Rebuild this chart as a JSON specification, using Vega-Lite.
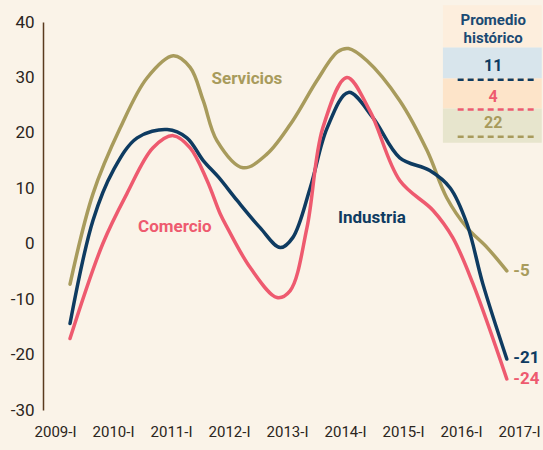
{
  "$schema": "https://vega.github.io/schema/vega-lite/v6.json",
  "width": 500,
  "height": 388,
  "autosize": {"type": "none"},
  "padding": {"left": 43, "top": 22, "right": 0, "bottom": 40},
  "background": "#faf3e8",
  "config": {
    "view": {"stroke": null},
    "font": "Roboto",
    "text": {"font": "Roboto"}
  },
  "datasets": {
    "lines": [
      {"series": "Servicios", "t": 0, "v": -7.3},
      {"series": "Servicios", "t": 0.42, "v": 9.0},
      {"series": "Servicios", "t": 0.92, "v": 20.9},
      {"series": "Servicios", "t": 1.41, "v": 29.9},
      {"series": "Servicios", "t": 1.89, "v": 33.9},
      {"series": "Servicios", "t": 2.2, "v": 31.8},
      {"series": "Servicios", "t": 2.44, "v": 25.8},
      {"series": "Servicios", "t": 2.69, "v": 18.6},
      {"series": "Servicios", "t": 3.17, "v": 13.7},
      {"series": "Servicios", "t": 3.61, "v": 16.2},
      {"series": "Servicios", "t": 4.08, "v": 22.2},
      {"series": "Servicios", "t": 4.52, "v": 29.4},
      {"series": "Servicios", "t": 4.9, "v": 34.6},
      {"series": "Servicios", "t": 5.1, "v": 35.2},
      {"series": "Servicios", "t": 5.44, "v": 33.0},
      {"series": "Servicios", "t": 6.04, "v": 25.8},
      {"series": "Servicios", "t": 6.54, "v": 16.8},
      {"series": "Servicios", "t": 6.9, "v": 8.3},
      {"series": "Servicios", "t": 7.27, "v": 2.9},
      {"series": "Servicios", "t": 7.64, "v": -0.7},
      {"series": "Servicios", "t": 8, "v": -4.9},
      {"series": "Industria", "t": 0, "v": -14.4},
      {"series": "Industria", "t": 0.42, "v": 4.2},
      {"series": "Industria", "t": 0.79, "v": 13.2},
      {"series": "Industria", "t": 1.23, "v": 19.1},
      {"series": "Industria", "t": 1.78, "v": 20.6},
      {"series": "Industria", "t": 2.14, "v": 19.1},
      {"series": "Industria", "t": 2.44, "v": 15.0},
      {"series": "Industria", "t": 2.72, "v": 12.0},
      {"series": "Industria", "t": 3.06, "v": 7.8},
      {"series": "Industria", "t": 3.48, "v": 2.9},
      {"series": "Industria", "t": 3.85, "v": -0.7},
      {"series": "Industria", "t": 4.08, "v": 1.1},
      {"series": "Industria", "t": 4.4, "v": 10.1},
      {"series": "Industria", "t": 4.71, "v": 20.9},
      {"series": "Industria", "t": 5.1, "v": 27.3},
      {"series": "Industria", "t": 5.55, "v": 22.7},
      {"series": "Industria", "t": 6.04, "v": 15.5},
      {"series": "Industria", "t": 6.59, "v": 13.2},
      {"series": "Industria", "t": 6.96, "v": 10.1},
      {"series": "Industria", "t": 7.27, "v": 3.6},
      {"series": "Industria", "t": 7.56, "v": -7.2},
      {"series": "Industria", "t": 8, "v": -20.8},
      {"series": "Comercio", "t": 0, "v": -17.1},
      {"series": "Comercio", "t": 0.6, "v": 0},
      {"series": "Comercio", "t": 1.04, "v": 9.0},
      {"series": "Comercio", "t": 1.52, "v": 17.3},
      {"series": "Comercio", "t": 1.89, "v": 19.5},
      {"series": "Comercio", "t": 2.2, "v": 17.3},
      {"series": "Comercio", "t": 2.51, "v": 11.4},
      {"series": "Comercio", "t": 2.75, "v": 5.4},
      {"series": "Comercio", "t": 2.88, "v": 2.9},
      {"series": "Comercio", "t": 3.3, "v": -4.3},
      {"series": "Comercio", "t": 3.79, "v": -9.7},
      {"series": "Comercio", "t": 4.03, "v": -8.5},
      {"series": "Comercio", "t": 4.34, "v": 2.9},
      {"series": "Comercio", "t": 4.63, "v": 20.9},
      {"series": "Comercio", "t": 5.07, "v": 30.0},
      {"series": "Comercio", "t": 5.49, "v": 24.0},
      {"series": "Comercio", "t": 6.04, "v": 11.4},
      {"series": "Comercio", "t": 6.65, "v": 6.0},
      {"series": "Comercio", "t": 7.01, "v": 1.1},
      {"series": "Comercio", "t": 7.38, "v": -7.2},
      {"series": "Comercio", "t": 8, "v": -24.4}
    ],
    "box": [
      {"row": "title", "x1": 6.83, "x2": 8.64, "y1": 35.4, "y2": 43.0},
      {"row": "Industria", "x1": 6.83, "x2": 8.64, "y1": 29.8, "y2": 35.4},
      {"row": "Comercio", "x1": 6.83, "x2": 8.64, "y1": 24.4, "y2": 29.8},
      {"row": "Servicios", "x1": 6.83, "x2": 8.64, "y1": 18.2, "y2": 24.4}
    ],
    "avg": [
      {"series": "Industria", "label": "11", "ly": 32.1, "dy": 29.6},
      {"series": "Comercio", "label": "4", "ly": 26.4, "dy": 24.2},
      {"series": "Servicios", "label": "22", "ly": 21.8, "dy": 19.3}
    ],
    "names": [
      {"series": "Servicios", "t": 3.24, "v": 29.8},
      {"series": "Comercio", "t": 1.92, "v": 3.1},
      {"series": "Industria", "t": 5.53, "v": 4.7}
    ],
    "ends": [
      {"series": "Servicios", "label": "-5", "t": 8.12, "v": -4.9},
      {"series": "Industria", "label": "-21", "t": 8.12, "v": -20.6},
      {"series": "Comercio", "label": "-24", "t": 8.12, "v": -24.4}
    ],
    "title": [
      {"label": "Promedio", "t": 7.75, "v": 40.3},
      {"label": "histórico", "t": 7.75, "v": 37.2}
    ]
  },
  "layer": [
    {
      "data": {"name": "box"},
      "mark": {"type": "rect", "clip": false},
      "encoding": {
        "x": {"field": "x1", "type": "quantitative", "scale": {"domain": [-0.495, 8.663], "nice": false, "zero": false}},
        "x2": {"field": "x2"},
        "y": {"field": "y1", "type": "quantitative", "scale": {"domain": [-30, 40], "nice": false}},
        "y2": {"field": "y2"},
        "fill": {"field": "row", "type": "nominal", "legend": null,
          "scale": {"domain": ["title", "Industria", "Comercio", "Servicios"], "range": ["#fdeedd", "#d8e5ec", "#fde4c9", "#e7e5cd"]}}
      }
    },
    {
      "mark": {"type": "rule", "color": "#7a5a3c", "strokeWidth": 1.5},
      "encoding": {"y": {"datum": 0, "type": "quantitative"}}
    },
    {
      "data": {"name": "lines"},
      "mark": {"type": "line", "interpolate": "catmull-rom", "strokeWidth": 3.5, "strokeCap": "round"},
      "encoding": {
        "x": {"field": "t", "type": "quantitative",
          "axis": {"values": [0, 1, 2, 3, 4, 5, 6, 7, 8], "labelExpr": "(2009 + datum.value) + '-I'",
            "labelOffset": {"expr": "-15 + 3.4 * datum.value"},
            "domain": false, "ticks": false, "grid": false, "title": null,
            "labelFontSize": 15, "labelColor": "#2b2520", "labelPadding": 14, "labelFont": "Roboto"}},
        "y": {"field": "v", "type": "quantitative",
          "axis": {"values": [-30, -20, -10, 0, 10, 20, 30, 40], "labelExpr": "'' + datum.value", "domain": true, "domainColor": "#5a3a1e", "domainWidth": 1.5,
            "ticks": false, "grid": false, "title": null, "labelFontSize": 17, "labelColor": "#2b2520", "labelPadding": 9, "labelFont": "Roboto"}},
        "color": {"field": "series", "type": "nominal", "legend": null,
          "scale": {"domain": ["Servicios", "Industria", "Comercio"], "range": ["#a89b5c", "#0e3b61", "#ee5a6f"]}},
        "detail": {"field": "series"}
      }
    },
    {
      "data": {"name": "avg"},
      "mark": {"type": "rule", "strokeWidth": 2.5, "strokeDash": [6, 4], "clip": false},
      "encoding": {
        "x": {"datum": 7.1, "type": "quantitative"},
        "x2": {"datum": 8.55},
        "y": {"field": "dy", "type": "quantitative"},
        "color": {"field": "series", "type": "nominal", "legend": null,
          "scale": {"domain": ["Servicios", "Industria", "Comercio"], "range": ["#a89b5c", "#0e3b61", "#ee5a6f"]}}
      }
    },
    {
      "data": {"name": "avg"},
      "mark": {"type": "text", "fontWeight": "bold", "fontSize": 16, "align": "center", "baseline": "middle", "clip": false},
      "encoding": {
        "x": {"datum": 7.75, "type": "quantitative"},
        "y": {"field": "ly", "type": "quantitative"},
        "text": {"field": "label"},
        "color": {"field": "series", "type": "nominal", "legend": null,
          "scale": {"domain": ["Servicios", "Industria", "Comercio"], "range": ["#a89b5c", "#0e3b61", "#ee5a6f"]}}
      }
    },
    {
      "data": {"name": "title"},
      "mark": {"type": "text", "fontWeight": "bold", "fontSize": 15, "align": "center", "baseline": "middle", "color": "#1a4a73", "clip": false},
      "encoding": {
        "x": {"field": "t", "type": "quantitative"},
        "y": {"field": "v", "type": "quantitative"},
        "text": {"field": "label"}
      }
    },
    {
      "data": {"name": "names"},
      "mark": {"type": "text", "fontWeight": "bold", "fontSize": 17, "align": "center", "baseline": "middle"},
      "encoding": {
        "x": {"field": "t", "type": "quantitative"},
        "y": {"field": "v", "type": "quantitative"},
        "text": {"field": "series"},
        "color": {"field": "series", "type": "nominal", "legend": null,
          "scale": {"domain": ["Servicios", "Industria", "Comercio"], "range": ["#a89b5c", "#0e3b61", "#ee5a6f"]}}
      }
    },
    {
      "data": {"name": "ends"},
      "mark": {"type": "text", "fontWeight": "bold", "fontSize": 17, "align": "left", "baseline": "middle", "clip": false},
      "encoding": {
        "x": {"field": "t", "type": "quantitative"},
        "y": {"field": "v", "type": "quantitative"},
        "text": {"field": "label"},
        "color": {"field": "series", "type": "nominal", "legend": null,
          "scale": {"domain": ["Servicios", "Industria", "Comercio"], "range": ["#a89b5c", "#0e3b61", "#ee5a6f"]}}
      }
    }
  ]
}
